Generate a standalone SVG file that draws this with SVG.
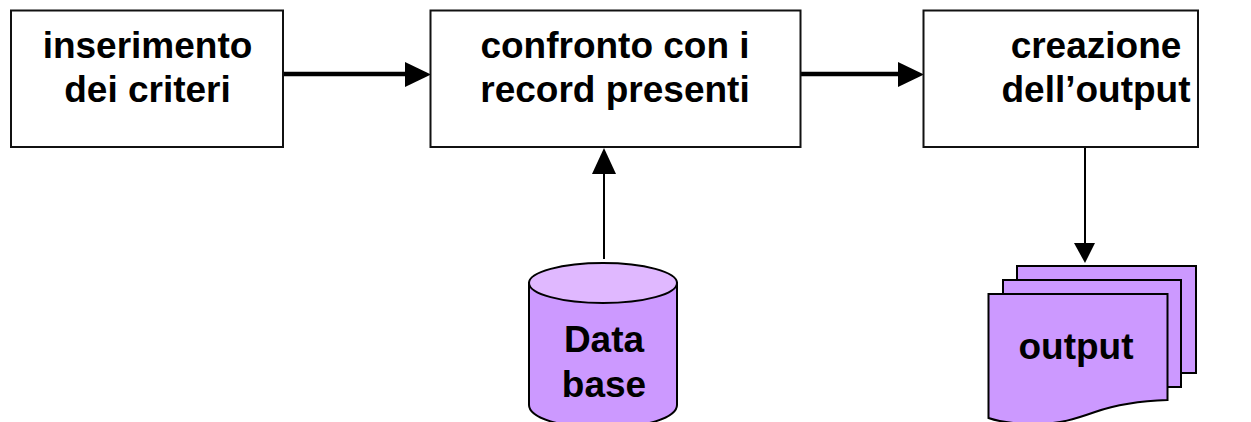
<svg xmlns="http://www.w3.org/2000/svg" width="1251" height="422" viewBox="0 0 1251 422">
<style>
.box{fill:#fff;stroke:#111;stroke-width:2}
.sh{fill:#cc99ff;stroke:#000;stroke-width:2}
.top{fill:#e0b8ff;stroke:#000;stroke-width:2}
text{font-family:"Liberation Sans",Arial,sans-serif;font-weight:700;font-size:37px;fill:#000;text-anchor:middle}
.thick{stroke:#000;stroke-width:4.5;fill:none}
.thin{stroke:#000;stroke-width:2;fill:none}
</style>
<rect width="1251" height="422" fill="#fff"/>
<g id="connectors">
<path class="thick" d="M283 74H406"/><path d="M405 62L431 74.500L405 87Z"/>
<path class="thick" d="M801 74H899"/><path d="M898 62L924 74.500L898 87Z"/>
<path class="thin" d="M604 259V172"/><path d="M592 174L604 148L616 174Z"/>
<path class="thin" d="M1085 148V245"/><path d="M1074 243L1085 263L1095 243Z"/>
</g>
<g id="node-inserimento"><rect class="box" x="11" y="10.500" width="272" height="136.500"/>
<text x="147.500" y="58">inserimento</text><text x="147.500" y="102">dei criteri</text></g>
<g id="node-confronto"><rect class="box" x="430.500" y="10.500" width="370" height="136.500"/>
<text x="615" y="58">confronto con i</text><text x="615" y="102">record presenti</text></g>
<g id="node-creazione"><rect class="box" x="923.500" y="10.500" width="274.500" height="136.500"/>
<text x="1096" y="58">creazione</text><text x="1096" y="102">dell’output</text></g>
<g id="node-database">
<path class="sh" d="M529 283V405C529 418 562 428 603 428C644 428 677 418 677 405V283Z"/>
<ellipse class="top" cx="603" cy="283" rx="74" ry="20"/>
<text x="604" y="352">Data</text><text x="604" y="397">base</text></g>
<g id="node-output">
<rect class="sh" x="1017" y="266" width="179" height="107"/>
<rect class="sh" x="1003" y="280" width="178" height="107"/>
<path class="sh" d="M988.500 294H1167.500V400C1135 401 1115 405 1095 412C1075 419 1060 424 1035 424C1015 424 1000 422 988.500 418Z"/>
<text x="1076" y="359">output</text></g>
</svg>
